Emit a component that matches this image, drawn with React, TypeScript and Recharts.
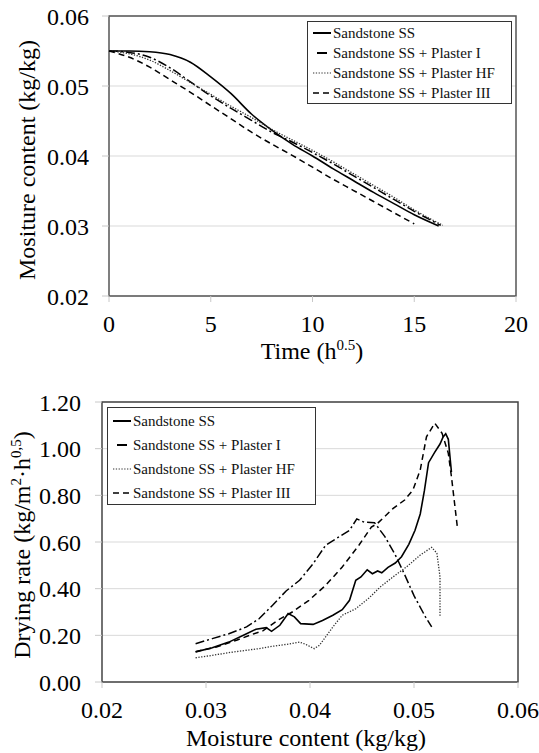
import React from "react";
import {
  LineChart,
  Line,
  XAxis,
  YAxis,
  CartesianGrid,
  ReferenceArea,
  Legend,
} from "recharts";

// top chart: moisture content vs time (h^0.5)
const ssTime = [0, 1, 2, 3, 4, 5, 6, 7, 8, 9, 10, 11, 12, 13, 14, 15, 16.2];
const ssMoist = [0.055, 0.055, 0.0549, 0.0545, 0.0534, 0.0513, 0.0489, 0.046, 0.0437, 0.0417, 0.04, 0.0382, 0.0365, 0.0348, 0.0332, 0.0316, 0.03];

const p1Time = [0, 1, 2, 3, 4, 5, 6, 7, 8, 9, 10, 11, 12, 13, 14, 15, 16.3];
const p1Moist = [0.055, 0.0548, 0.0541, 0.0526, 0.0506, 0.0486, 0.0468, 0.0451, 0.0434, 0.042, 0.0405, 0.0389, 0.0372, 0.0355, 0.0338, 0.0321, 0.0301];

const hfTime = [0, 1, 2, 3, 4, 5, 6, 7, 8, 9, 10, 11, 12, 13, 14, 15, 16.4];
const hfMoist = [0.055, 0.0546, 0.0537, 0.0522, 0.0505, 0.0488, 0.0471, 0.0455, 0.0438, 0.0423, 0.0408, 0.0392, 0.0375, 0.0358, 0.0341, 0.0323, 0.0301];

const p3Time = [0, 1, 2, 3, 4, 5, 6, 7, 8, 9, 10, 11, 12, 13, 14, 15];
const p3Moist = [0.055, 0.0541, 0.0527, 0.0509, 0.0491, 0.0472, 0.0453, 0.0434, 0.0417, 0.0401, 0.0384, 0.0367, 0.0351, 0.0335, 0.0319, 0.0303];

// bottom chart: drying rate vs moisture content
const ssMc = [0.029, 0.0306, 0.0322, 0.0339, 0.0348, 0.0358, 0.0363, 0.0371, 0.0379, 0.0385, 0.0391, 0.0403, 0.0412, 0.0422, 0.0431, 0.0438, 0.0444, 0.0449, 0.0455, 0.046, 0.0465, 0.0469, 0.0475, 0.0482, 0.0488, 0.0495, 0.0501, 0.0506, 0.051, 0.0514, 0.052, 0.0525, 0.0528, 0.05305, 0.0533, 0.0536];
const ssRate = [0.129, 0.147, 0.171, 0.207, 0.226, 0.233, 0.217, 0.243, 0.293, 0.279, 0.25, 0.247, 0.264, 0.286, 0.31, 0.35, 0.436, 0.45, 0.481, 0.464, 0.476, 0.468, 0.491, 0.51, 0.537, 0.59, 0.65, 0.72, 0.82, 0.94, 0.985, 1.02, 1.05, 1.064, 1.04, 0.9];

const p1Mc = [0.029, 0.0306, 0.0322, 0.0339, 0.0351, 0.0364, 0.0377, 0.039, 0.0403, 0.0415, 0.0425, 0.0438, 0.0445, 0.0452, 0.0462, 0.0472, 0.0482, 0.0491, 0.05, 0.0511, 0.0517];
const p1Rate = [0.164, 0.186, 0.207, 0.236, 0.271, 0.329, 0.39, 0.436, 0.507, 0.586, 0.614, 0.65, 0.699, 0.685, 0.683, 0.623, 0.545, 0.46, 0.37, 0.279, 0.236];

const hfMc = [0.029, 0.0306, 0.0322, 0.0339, 0.0351, 0.0364, 0.0377, 0.039, 0.0396, 0.0404, 0.0409, 0.0415, 0.0422, 0.0431, 0.0444, 0.0457, 0.0467, 0.048, 0.0493, 0.0506, 0.0517, 0.0522, 0.0525, 0.0525];
const hfRate = [0.104, 0.114, 0.126, 0.136, 0.143, 0.153, 0.161, 0.171, 0.161, 0.143, 0.157, 0.193, 0.236, 0.286, 0.314, 0.361, 0.405, 0.451, 0.494, 0.544, 0.577, 0.552, 0.451, 0.279];

const p3Mc = [0.029, 0.031, 0.033, 0.0345, 0.0355, 0.037, 0.0383, 0.0399, 0.0415, 0.0431, 0.0447, 0.0459, 0.0465, 0.048, 0.0491, 0.0499, 0.0506, 0.0512, 0.052, 0.0527, 0.0533, 0.0536, 0.0539, 0.0542];
const p3Rate = [0.13, 0.15, 0.18, 0.205, 0.22, 0.267, 0.3, 0.35, 0.414, 0.493, 0.586, 0.664, 0.68, 0.744, 0.78, 0.823, 0.909, 1.051, 1.109, 1.066, 0.98, 0.88, 0.766, 0.652];

const seriesNames = [
  "Sandstone SS",
  "Sandstone SS + Plaster I",
  "Sandstone SS + Plaster HF",
  "Sandstone SS + Plaster III",
];

const topXTicks = [0, 5, 10, 15, 20];
const topYTicks = [0.02, 0.03, 0.04, 0.05, 0.06];
const botXTicks = [0.02, 0.03, 0.04, 0.05, 0.06];
const botYTicks = [0, 0.2, 0.4, 0.6, 0.8, 1.0, 1.2];

const FONT = "'Liberation Serif', 'Times New Roman', serif";

const toPts = (xs: number[], ys: number[]) => xs.map((x, i) => ({ x, y: ys[i] }));

// line looks, also used by the legend samples
const styles = [
  { stroke: "#000", width: 1.6, dash: undefined as string | undefined },
  { stroke: "#000", width: 1.5, dash: "9 3 2 3" },
  { stroke: "#333", width: 1.3, dash: "1.3 1.5" },
  { stroke: "#000", width: 1.5, dash: "6 4" },
];

const legendSample = (i: number) => {
  const s = styles[i];
  if (i === 1) return <line x1={4} y1={5} x2={14} y2={5} stroke="#000" strokeWidth={2} />;
  if (i === 3) return <line x1={0} y1={5} x2={18} y2={5} stroke="#000" strokeWidth={1.5} strokeDasharray="6 4" />;
  return <line x1={0} y1={5} x2={18} y2={5} stroke={s.stroke} strokeWidth={i === 0 ? 2 : 1.2} strokeDasharray={s.dash} />;
};

const makeLegend = (rowH: number, padTop: number, width: number, height: number) => () => (
  <div
    style={{
      border: "1.5px solid #333",
      background: "#fff",
      width,
      height,
      boxSizing: "border-box",
      paddingTop: padTop,
      paddingLeft: 5,
      fontFamily: FONT,
      fontSize: 15,
      color: "#111",
    }}
  >
    {seriesNames.map((n, i) => (
      <div key={n} style={{ height: rowH, display: "flex", alignItems: "center", whiteSpace: "nowrap" }}>
        <svg width={18} height={10} style={{ marginRight: 2 }}>
          {legendSample(i)}
        </svg>
        <span>{n}</span>
      </div>
    ))}
  </div>
);

const tickStyle = { fill: "#000", fontSize: 24, fontFamily: FONT };

const TopXTitle = () => (
  <text x={312} y={359} textAnchor="middle" fontFamily={FONT} fontSize={24} fill="#000">
    Time (h<tspan dy={-9} fontSize={15}>0.5</tspan>
    <tspan dy={9}>)</tspan>
  </text>
);

const TopYTitle = () => (
  <text x={35} y={160} transform="rotate(-90 35 160)" textAnchor="middle" fontFamily={FONT} fontSize={24} fill="#000">
    Mositure content (kg/kg)
  </text>
);

const BotXTitle = () => (
  <text x={306} y={376} textAnchor="middle" fontFamily={FONT} fontSize={24} fill="#000">
    Moisture content (kg/kg)
  </text>
);

const BotYTitle = () => (
  <text x={30} y={175} transform="rotate(-90 30 175)" textAnchor="middle" fontFamily={FONT} fontSize={24} fill="#000">
    Drying rate (kg/m<tspan dy={-9} fontSize={15}>2</tspan>
    <tspan dy={9}>·h</tspan>
    <tspan dy={-9} fontSize={15}>0,5</tspan>
    <tspan dy={9}>)</tspan>
  </text>
);

const topSeries = [toPts(ssTime, ssMoist), toPts(p1Time, p1Moist), toPts(hfTime, hfMoist), toPts(p3Time, p3Moist)];
const botSeries = [toPts(ssMc, ssRate), toPts(p1Mc, p1Rate), toPts(hfMc, hfRate), toPts(p3Mc, p3Rate)];

export default function App() {
  return (
    <div style={{ position: "absolute", left: 0, top: 0, width: 539, height: 753, background: "#fff", fontFamily: FONT }}>
      <div style={{ position: "absolute", left: 0, top: 0 }}>
        <LineChart width={539} height={370} margin={{ top: 16, right: 23, bottom: 0, left: 0 }}>
          <CartesianGrid vertical={false} stroke="#d9d9d9" />
          <XAxis
            type="number"
            dataKey="x"
            domain={[0, 20]}
            ticks={topXTicks}
            height={74}
            axisLine={false}
            tickLine={{ stroke: "#c8c8c8" }}
            tickSize={6}
            tickMargin={13}
            tick={tickStyle}
            interval={0}
            label={<TopXTitle />}
          />
          <YAxis
            type="number"
            dataKey="y"
            domain={[0.02, 0.06]}
            ticks={topYTicks}
            width={109}
            axisLine={false}
            tickLine={{ stroke: "#c8c8c8" }}
            tickSize={7}
            tickMargin={13}
            tick={tickStyle}
            interval={0}
            tickFormatter={(v: number) => v.toFixed(2)}
            label={<TopYTitle />}
          />
          <ReferenceArea x1={0} x2={20} y1={0.02} y2={0.06} fill="none" stroke="#555" strokeWidth={1.5} ifOverflow="visible" />
          {topSeries.map((d, i) => (
            <Line
              key={seriesNames[i]}
              data={d}
              dataKey="y"
              name={seriesNames[i]}
              type="monotone"
              stroke={styles[i].stroke}
              strokeWidth={styles[i].width}
              strokeDasharray={styles[i].dash}
              dot={false}
              activeDot={false}
              isAnimationActive={false}
            />
          ))}
          <Legend
            layout="vertical"
            align="center"
            verticalAlign="middle"
            wrapperStyle={{ left: 307, top: 21, width: 205, height: 83 }}
            content={makeLegend(20, 1, 205, 83)}
          />
        </LineChart>
      </div>

      <div style={{ position: "absolute", left: 0, top: 370 }}>
        <LineChart width={539} height={383} margin={{ top: 32, right: 21, bottom: 0, left: 0 }}>
          <CartesianGrid vertical={false} stroke="#d9d9d9" />
          <XAxis
            type="number"
            dataKey="x"
            domain={[0.02, 0.06]}
            ticks={botXTicks}
            height={71}
            axisLine={false}
            tickLine={{ stroke: "#c8c8c8" }}
            tickSize={6}
            tickMargin={13}
            tick={tickStyle}
            interval={0}
            tickFormatter={(v: number) => v.toFixed(2)}
            label={<BotXTitle />}
          />
          <YAxis
            type="number"
            dataKey="y"
            domain={[0, 1.2]}
            ticks={botYTicks}
            width={102}
            axisLine={false}
            tickLine={{ stroke: "#c8c8c8" }}
            tickSize={7}
            tickMargin={14}
            tick={tickStyle}
            interval={0}
            tickFormatter={(v: number) => v.toFixed(2)}
            label={<BotYTitle />}
          />
          <ReferenceArea x1={0.02} x2={0.06} y1={0} y2={1.2} fill="none" stroke="#444" strokeWidth={1.5} ifOverflow="visible" />
          {botSeries.map((d, i) => (
            <Line
              key={seriesNames[i]}
              data={d}
              dataKey="y"
              name={seriesNames[i]}
              type="linear"
              stroke={styles[i].stroke}
              strokeWidth={styles[i].width}
              strokeDasharray={styles[i].dash}
              dot={false}
              activeDot={false}
              isAnimationActive={false}
            />
          ))}
          <Legend
            layout="vertical"
            align="center"
            verticalAlign="middle"
            wrapperStyle={{ left: 107, top: 37, width: 209, height: 98 }}
            content={makeLegend(24, 1, 209, 98)}
          />
        </LineChart>
      </div>
    </div>
  );
}
